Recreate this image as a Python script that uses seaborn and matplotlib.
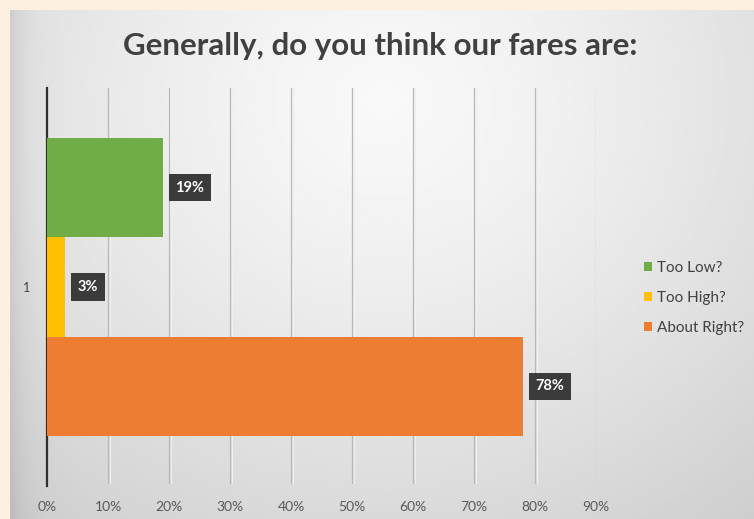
import numpy as np
import pandas as pd
import matplotlib
matplotlib.use("Agg")
import matplotlib.pyplot as plt
import seaborn as sns

# Survey answers
category = ["1", "1", "1"]
answers = ["Too Low?", "Too High?", "About Right?"]
shares = [0.19, 0.03, 0.78]
colors = ["#70ad47", "#ffc000", "#ed7d31"]
tick_values = [0.0, 0.1, 0.2, 0.3, 0.4, 0.5, 0.6, 0.7, 0.8, 0.9]
tick_labels = ["0%", "10%", "20%", "30%", "40%", "50%", "60%", "70%", "80%", "90%"]
title = "Generally, do you think our fares are:"

df = pd.DataFrame({"group": category, "answer": answers, "share": shares})

sns.set_style("white")
plt.rcParams["font.family"] = ["Lato", "DejaVu Sans"]

W, H = 754, 519
fig = plt.figure(figsize=(W / 100, H / 100), dpi=100)
fig.patch.set_facecolor("#fdefe2")

# Grey gradient panel
bg = fig.add_axes([10 / W, 0, (W - 10) / W, (H - 10) / H])
bg.set_axis_off()
yy, xx = np.mgrid[0:200, 0:300]
cx, cy = 150, 35
d = np.sqrt(((xx - cx) / 300) ** 2 + ((yy - cy) / 260) ** 2)
shade = np.clip(0.975 - 0.22 * d ** 1.3, 0.79, 1.0)
# darker band along the left edge
shade -= 0.07 * np.exp(-xx / 6.0)
bg.imshow(shade, cmap="gray", vmin=0, vmax=1, aspect="auto",
          extent=[0, 1, 0, 1], interpolation="bilinear")
bg.set_xlim(0, 1)
bg.set_ylim(0, 1)

ax_h = 486 - 88
ax = fig.add_axes([47 / W, (H - 486) / H, (596 - 47) / W, ax_h / H])
ax.patch.set_alpha(0)

sns.barplot(data=df, y="group", x="share", hue="answer", hue_order=answers,
            palette=colors, orient="h", width=0.75, saturation=1,
            linewidth=0, ax=ax, legend=True, zorder=3)

ax.set_xlim(0, 0.9)
ax.set_ylim(0.5, -0.5)
ax.set_xticks(tick_values[1:])
ax.set_xticklabels([])
ax.grid(False)
for v in tick_values[1:]:
    ax.plot([v, v], [0.5 - 3 / ax_h, -0.5 - 3 / ax_h], color="#b8b8b8",
            lw=0.9, zorder=1)
    ax.plot([v + 0.0025] * 2, [0.5 - 3 / ax_h, -0.5 - 3 / ax_h],
            color="#f0f0f0", lw=0.8, zorder=1)
for v, lab in zip(tick_values, tick_labels):
    ax.text(v, -21 / ax_h, lab, transform=ax.get_xaxis_transform(),
            ha="center", va="center", fontsize=10, color="#595959")
ax.tick_params(axis="x", length=0)

for s in ["top", "right", "bottom"]:
    ax.spines[s].set_visible(False)
ax.spines["left"].set_color("#303030")
ax.spines["left"].set_linewidth(1.6)
ax.set_yticks([-0.5, 0.5], minor=True)
ax.tick_params(axis="y", which="minor", length=3, width=1.6, color="#303030")
ax.set_yticks([0])
ax.set_yticklabels(["1"])
ax.tick_params(axis="y", which="major", length=0, pad=12, labelsize=9,
               labelcolor="#404040")
ax.set_xlabel("")
ax.set_ylabel("")

# Value labels in dark boxes
for cont in ax.containers:
    for bar in cont:
        w = bar.get_width()
        yc = bar.get_y() + bar.get_height() / 2
        ax.annotate(f"{w * 100:.0f}%", xy=(w, yc), xytext=(9, 0),
                    textcoords="offset points", ha="left", va="center",
                    fontsize=10.5, fontweight="bold", color="white", zorder=5,
                    bbox=dict(boxstyle="square,pad=0.45", fc="#3b3b3b",
                              ec="none"))

leg = ax.get_legend()
handles = leg.legend_handles
leg.remove()
fig.legend(handles, answers, loc="center left",
           bbox_to_anchor=(630 / W, 1 - 298 / H), frameon=False,
           fontsize=11, labelcolor="#404040", handlelength=0.55,
           handleheight=0.55, handletextpad=0.3, labelspacing=1.05)

fig.text(380 / W, 1 - 46 / H, title, ha="center", va="center",
         fontsize=22.5, fontweight="bold", color="#404040")

fig.savefig("out.png", dpi=100, facecolor=fig.get_facecolor())
